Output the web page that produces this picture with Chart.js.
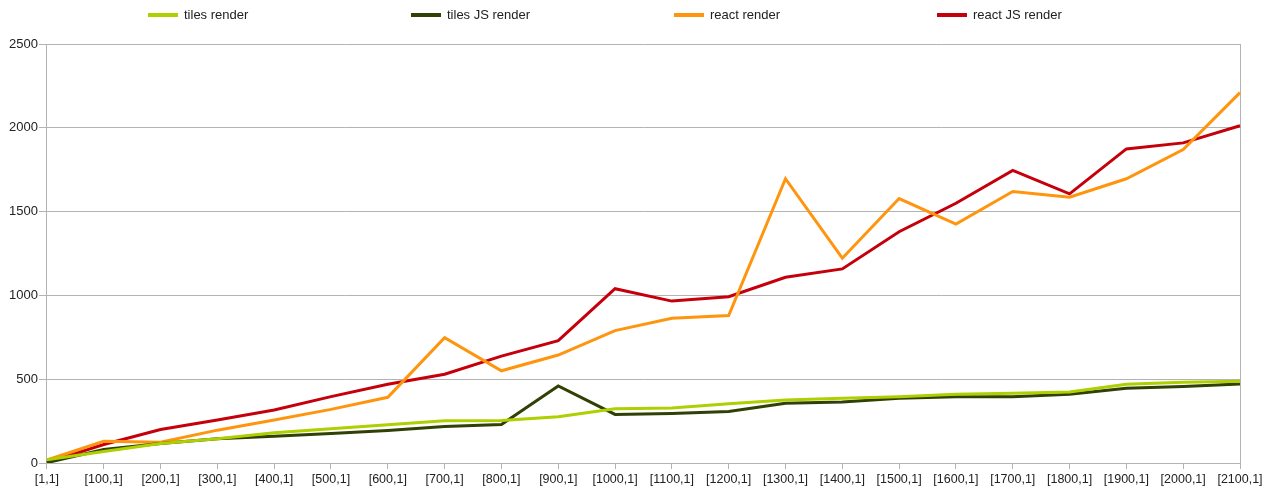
<!DOCTYPE html>
<html lang="en">
<head>
  <meta charset="UTF-8">
  <title>Render times</title>
  <style>
    html, body { margin: 0; padding: 0; background: #fff; }
    #wrap { position: relative; width: 1276px; height: 490px; }
    #legend {
      position: absolute; left: 148px; top: 7px;
      display: flex; font-family: 'Liberation Sans', Arial, sans-serif;
      font-size: 13px; color: #222;
    }
    .item { width: 263px; display: flex; align-items: center; }
    .swatch { width: 30px; height: 4px; margin-right: 6px; }
    canvas { position: absolute; left: 0; top: 0; }
  </style>
</head>
<body>
  <div id="wrap">
    <canvas id="chart" width="1276" height="490"></canvas>
    <div id="legend"></div>
  </div>
  <script src="https://cdn.jsdelivr.net/npm/chart.js"></script>
  <script>
    const labels = ['[1,1]', '[100,1]', '[200,1]', '[300,1]', '[400,1]', '[500,1]', '[600,1]',
      '[700,1]', '[800,1]', '[900,1]', '[1000,1]', '[1100,1]', '[1200,1]', '[1300,1]', '[1400,1]',
      '[1500,1]', '[1600,1]', '[1700,1]', '[1800,1]', '[1900,1]', '[2000,1]', '[2100,1]'];

    const tilesRender = [20, 68, 116, 144, 180, 204, 228, 252, 254, 276, 324, 328, 354, 376, 386, 396, 410, 416, 424, 470, 482, 488];
    const tilesJsRender = [2, 80, 116, 144, 160, 176, 194, 218, 230, 460, 290, 296, 308, 356, 364, 386, 396, 396, 410, 446, 456, 472];
    const reactRender = [18, 130, 124, 196, 256, 320, 392, 748, 550, 644, 790, 864, 880, 1696, 1222, 1578, 1426, 1620, 1586, 1696, 1870, 2210];
    const reactJsRender = [4, 110, 200, 256, 316, 396, 470, 530, 638, 730, 1040, 966, 992, 1108, 1158, 1380, 1550, 1746, 1606, 1874, 1910, 2012];

    const yTicks = [0, 500, 1000, 1500, 2000, 2500];

    const series = [
      { name: 'tiles render', values: tilesRender, color: '#aecf00' },
      { name: 'tiles JS render', values: tilesJsRender, color: '#314004' },
      { name: 'react render', values: reactRender, color: '#ff950e' },
      { name: 'react JS render', values: reactJsRender, color: '#c5000b' }
    ];

    const family = "'Liberation Sans', Arial, sans-serif";
    const gridColor = '#b3b3b3';

    const ctx = document.getElementById('chart').getContext('2d');
    const chart = new Chart(ctx, {
      type: 'line',
      data: {
        labels: labels,
        datasets: series.map(s => ({
          label: s.name,
          data: s.values,
          borderColor: s.color,
          backgroundColor: s.color,
          borderWidth: 3,
          pointRadius: 0,
          tension: 0,
          fill: false
        }))
      },
      options: {
        responsive: false,
        animation: false,
        devicePixelRatio: 1,
        layout: { padding: { top: 44, right: 36, left: 8, bottom: 0 } },
        plugins: {
          legend: { display: false },
          tooltip: { enabled: false }
        },
        scales: {
          x: {
            offset: false,
            grid: { display: true, drawOnChartArea: false, color: gridColor, tickLength: 6 },
            border: { color: gridColor },
            ticks: { color: '#222', font: { family: family, size: 12.5 }, maxRotation: 0, autoSkip: false, padding: 3 }
          },
          y: {
            min: 0,
            max: 2500,
            afterBuildTicks: axis => { axis.ticks = yTicks.map(v => ({ value: v })); },
            grid: { color: gridColor, tickLength: 8 },
            border: { color: gridColor },
            ticks: { color: '#222', font: { family: family, size: 13 }, padding: 1, callback: v => String(v) }
          },
          y2: {
            position: 'right',
            min: 0,
            max: 2500,
            grid: { drawOnChartArea: false, drawTicks: false },
            border: { color: gridColor },
            ticks: { display: false }
          }
        }
      }
    });

    const legend = document.getElementById('legend');
    chart.data.datasets.forEach(ds => {
      const item = document.createElement('div');
      item.className = 'item';
      const sw = document.createElement('span');
      sw.className = 'swatch';
      sw.style.background = ds.borderColor;
      const txt = document.createElement('span');
      txt.textContent = ds.label;
      item.appendChild(sw);
      item.appendChild(txt);
      legend.appendChild(item);
    });
  </script>
</body>
</html>
